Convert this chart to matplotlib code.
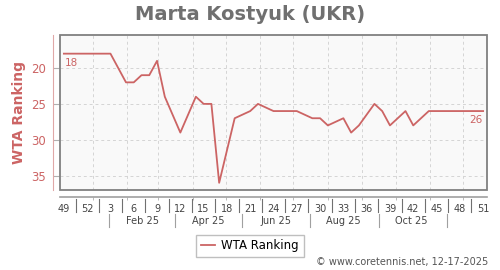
#!/usr/bin/python3
"""WTA ranking chart for Marta Kostyuk"""

import datetime as dt
import matplotlib
matplotlib.use('Agg')

import matplotlib.pyplot as plt
import matplotlib.transforms as mtransforms

# week offsets (0 = week 49 of 2024) and ranking at each point
weeks = [0, 6, 8, 9, 10, 11, 12, 13, 15, 17, 18, 19, 20, 22, 24, 25, 27, 30,
         32, 33, 34, 36, 37, 38, 40, 41, 42, 44, 45, 47, 54]
ranks = [18, 18, 22, 22, 21, 21, 19, 24, 29, 24, 25, 25, 36, 27, 26, 25, 26, 26,
         27, 27, 28, 27, 29, 28, 25, 26, 28, 26, 28, 26, 26]

week_labels = ["49", "52", "3", "6", "9", "12", "15", "18", "21", "24", "27",
               "30", "33", "36", "39", "42", "45", "48", "51"]
month_labels = ["Feb 25", "Apr 25", "Jun 25", "Aug 25", "Oct 25"]
yticks = [20, 25, 30, 35]

start = dt.date(2024, 12, 6)
RED = "#cc6464"


def wk(d):
    return (d - start).days / 7.0


def main():
    fig = plt.figure(figsize=(5, 2.7), dpi=100)
    ax = fig.add_axes([60 / 500, 1 - 190 / 270, 427 / 500, 155 / 270])
    ax.set_facecolor("#f9f9f9")

    ax.plot(weeks, ranks, color=RED, lw=1.3, label="WTA Ranking", zorder=3)
    ax.text(weeks[0] + 0.1, ranks[0] + 0.6, str(ranks[0]), color=RED,
            fontsize=7.5, ha="left", va="top")
    ax.text(weeks[-1] - 0.05, ranks[-1] + 0.6, str(ranks[-1]), color=RED,
            fontsize=7.5, ha="right", va="top")

    ax.set_xlim(-0.5, 54.5)
    ax.set_ylim(37, 15.4)

    # month grid lines
    month_starts = [wk(dt.date(2025, m, 1)) for m in range(1, 13)]
    for x in month_starts:
        ax.axvline(x, color="#d4d4d4", lw=0.7, ls=(0, (3, 3)), zorder=1)
    for y in yticks:
        ax.axhline(y, color="#d4d4d4", lw=0.7, ls=(0, (3, 3)), zorder=1)

    # frame around plot area
    for s in ["top", "right"]:
        ax.spines[s].set_visible(False)
    frame = plt.Rectangle((0, 0), 1, 1, transform=ax.transAxes, fill=False,
                          edgecolor="#808080", lw=1.3, zorder=5, clip_on=False)
    ax.add_patch(frame)

    # y axis
    ax.spines["left"].set_position(("outward", 5))
    ax.spines["left"].set_color("#e0a8a8")
    ax.set_yticks(yticks)
    ax.tick_params(axis="y", direction="in", length=4, color="#b0b0b0",
                   labelcolor=RED, labelsize=8.5, pad=5)
    ax.set_ylabel("WTA Ranking", color=RED, fontsize=10, fontweight="bold",
                  labelpad=4)

    # x axis: week labels
    ax.spines["bottom"].set_position(("outward", 5))
    ax.spines["bottom"].set_color("#a0a0a0")
    ax.spines["bottom"].set_linewidth(1.2)
    ax.set_xticks(range(0, 55, 3))
    ax.set_xticklabels(week_labels)
    ax.tick_params(axis="x", length=0, labelsize=7, labelcolor="#444444", pad=5)
    ax.set_xticks(month_starts, minor=True)
    ax.tick_params(axis="x", which="minor", length=2, color="#b0b0b0")

    trans = mtransforms.blended_transform_factory(ax.transData, fig.transFigure)
    # separators in week row
    for i in range(0, 54, 3):
        ax.plot([i + 1.5, i + 1.5], [1 - 199 / 270, 1 - 212 / 270],
                color="#707070", lw=0.8, transform=trans, clip_on=False)
    # month labels and separators
    for m in [1, 3, 5, 7, 9, 11]:
        x = wk(dt.date(2025, m, 16))
        ax.plot([x, x], [1 - 214 / 270, 1 - 227 / 270], color="#a0a0a0",
                lw=0.8, transform=trans, clip_on=False)
    for m, lab in zip([2, 4, 6, 8, 10], month_labels):
        ax.text(wk(dt.date(2025, m, 15)), 1 - 221 / 270, lab, transform=trans,
                ha="center", va="center", fontsize=7, color="#444444")

    fig.suptitle("Marta Kostyuk (UKR)", x=0.5, y=1 - 14 / 270, va="center",
                 fontsize=14, fontweight="bold", color="#707070")

    fig.legend(loc="center", bbox_to_anchor=(0.5, 1 - 246 / 270), fontsize=8.5,
               handlelength=1.2, handletextpad=0.5, fancybox=False,
               edgecolor="#b0b0b0", borderpad=0.4)

    fig.text(488 / 500, 1 - 262 / 270, "\u00a9 www.coretennis.net, 12-17-2025",
             ha="right", va="center", fontsize=7, color="#555555")

    plt.savefig("out.png", dpi=100)


if __name__ == "__main__":
    main()
